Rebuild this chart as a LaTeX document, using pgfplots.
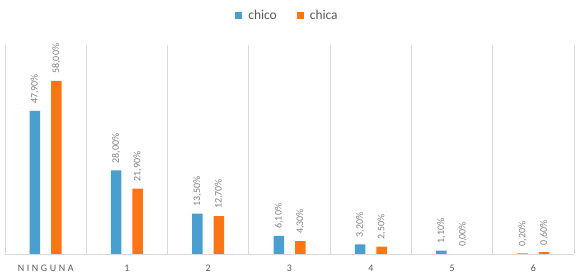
\documentclass[border=0pt]{standalone}
\usepackage{pgfplots}
\pgfplotsset{compat=1.18}
\usepackage{fontspec}
\setmainfont{Carlito}
\definecolor{cblue}{RGB}{75,159,207}
\definecolor{corange}{RGB}{255,116,20}
\definecolor{gridc}{RGB}{217,217,217}
\definecolor{lblc}{RGB}{128,128,128}
\definecolor{tickc}{RGB}{89,89,89}
\begin{document}
\begin{tikzpicture}
\path[use as bounding box] (0,0) rectangle (578bp,278bp);
\begin{axis}[
  at={(5bp,24bp)}, anchor=south west,
  scale only axis, width=569bp, height=209bp,
  xmin=-0.5, xmax=6.5, ymin=0, ymax=70,
  ybar=11bp, bar width=10.5bp,
  /pgf/number format/assume math mode=true,
  axis line style={draw=none},
  ytick=\empty,
  xtick={0,...,6},
  xticklabels={{\addfontfeature{LetterSpace=26}NINGUNA},1,2,3,4,5,6},
  major tick length=0pt,
  xticklabel style={font=\fontsize{10}{12}\selectfont, text=tickc, anchor=base, yshift=-17.5bp},
  minor xtick={-0.5,0.5,...,6.5},
  xminorgrids,
  minor tick length=0pt,
  minor grid style={draw=gridc, line width=0.8pt},
  extra y ticks={0}, extra y tick labels={},
  extra y tick style={grid=major, major grid style={draw=gridc, line width=0.8pt}},
  nodes near coords={\pgfmathprintnumber[fixed,fixed zerofill,precision=2,use comma,assume math mode=true]{\pgfplotspointmeta}\%},
  every node near coord/.append style={rotate=90, anchor=west, inner xsep=7bp, font=\fontsize{10}{12}\selectfont, text=lblc},
  legend columns=2,
  legend style={at={(0.5,1.141)}, anchor=center, draw=none, fill=none,
    font=\fontsize{13.5}{15}\selectfont, text=tickc,
    /tikz/every even column/.append style={column sep=14bp}},
  legend image code/.code={\fill[#1] (0bp,-3.5bp) rectangle (7bp,3.5bp);},
  legend style={/tikz/every node/.append style={inner xsep=6bp}},
]
\addplot[fill=cblue, draw=none] coordinates {(0,47.9) (1,28.0) (2,13.5) (3,6.1) (4,3.2) (5,1.1) (6,0.2)};
\addplot[fill=corange, draw=none] coordinates {(0,58.0) (1,21.9) (2,12.7) (3,4.3) (4,2.5) (5,0.0) (6,0.6)};
\legend{chico, chica}
\end{axis}
\end{tikzpicture}
\end{document}
